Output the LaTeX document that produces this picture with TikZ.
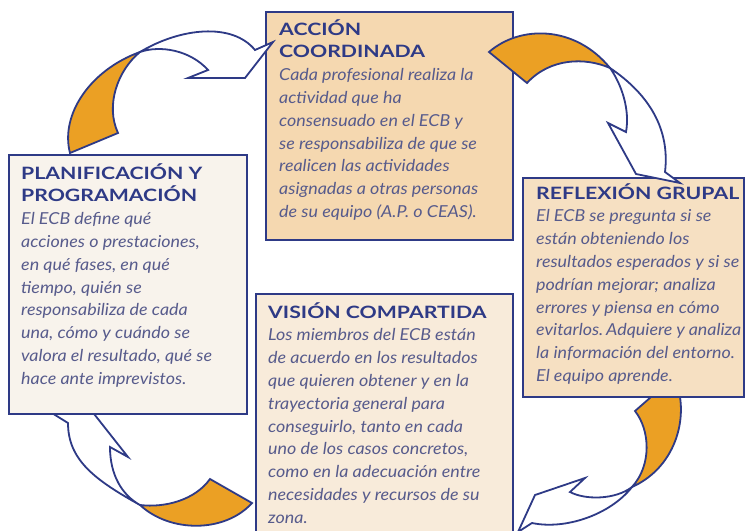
\documentclass[tikz,border=0pt]{standalone}
\usepackage{fontspec}
\setmainfont{Lato}
\newfontfamily\ttlfamily[FakeStretch=1.25]{Lato}
\newfontfamily\bdyfamily[FakeStretch=1.085]{Lato}
\definecolor{navy}{HTML}{2E3A86}
\definecolor{bodyc}{HTML}{575B8C}
\definecolor{arrorange}{HTML}{EBA024}
\definecolor{fillA}{HTML}{F5D8B0}
\definecolor{fillP}{HTML}{F8F3EC}
\definecolor{fillR}{HTML}{F6E0C2}
\definecolor{fillV}{HTML}{F8EBDA}
\newcommand\ttlf{\ttlfamily\fontsize{17}{22.8}\selectfont\bfseries\color{navy}}
\newcommand\bdyf{\bdyfamily\fontsize{16.5}{22.8}\selectfont\itshape\color{bodyc}}
\newcommand\lead{\fontsize{16}{22.8}\selectfont\frenchspacing\leavevmode}
\begin{document}
\begin{tikzpicture}[x=1pt,y=-1pt,
  box/.style={draw=navy, line width=2pt, anchor=north west, inner sep=0pt},
  txt/.style={anchor=base west, inner sep=0pt},
  orangepart/.style={draw=navy, line width=1.8pt, fill=arrorange},
  whitepart/.style={draw=navy, line width=1.8pt, fill=white}]
\clip (0,0) rectangle (746,530);
\fill[white] (0,0) rectangle (746,530);
% boxes A and V
\node[box, fill=fillA, minimum width=247pt, minimum height=228pt] (boxA) at (265,11) {};
\node[box, fill=fillV, minimum width=257pt, minimum height=260pt] (boxV) at (255,293) {};
% arrow 3 (R -> V)
\path[orangepart] (659,390) -- (635,411) .. controls (650,430) and (652,465) .. (632,487)
  .. controls (670,470) and (685,430) .. (680,397) -- (679,390) -- cycle;
\path[whitepart] (632,487) .. controls (610,515) and (565,530) .. (532,523) -- (518,532)
  -- (535,495) -- (585,478) -- (570,492) .. controls (585,500) and (615,500) .. (632,487) -- cycle;
% box R
\node[box, fill=fillR, minimum width=221pt, minimum height=219pt] (boxR) at (522,177) {};
% arrow 2 (A -> R)
\path[orangepart] (489,52) .. controls (520,25) and (575,25) .. (610,68)
  .. controls (585,57) and (550,58) .. (527,83) -- cycle;
\path[whitepart] (610,68) .. controls (650,95) and (670,130) .. (665,172) -- (680,183)
  -- (636,174) -- (608,123) -- (626,132) .. controls (630,110) and (622,85) .. (610,68) -- cycle;
% arrow 1 (P -> A)
\path[orangepart] (70,153) .. controls (60,115) and (90,70) .. (140,52)
  .. controls (118,70) and (105,105) .. (118,133) -- cycle;
\path[whitepart] (140,52) .. controls (180,28) and (232,22) .. (255,50) -- (273,42)
  -- (245,78) -- (188,78) -- (208,70) .. controls (190,50) and (160,45) .. (140,52) -- cycle;
% arrow 4 (V -> P)
\path[orangepart] (140,505) .. controls (170,533) and (225,533) .. (252,503) -- (210,479)
  .. controls (195,500) and (165,508) .. (140,505) -- cycle;
\path[whitepart] (140,505) .. controls (95,480) and (68,460) .. (68,423) -- (39,405)
  -- (87,405) -- (128,457) -- (110,447) .. controls (110,475) and (122,495) .. (140,505) -- cycle;
% box P
\node[box, fill=fillP, minimum width=238pt, minimum height=259pt] (boxP) at (8,154) {};
% texts
\node[txt] (txtA) at (279,35) {\begin{minipage}[t]{232pt}\lead
{\ttlf ACCIÓN\\COORDINADA}\\
{\bdyf Cada profesional realiza la\\
actividad que ha\\
consensuado en el ECB y\\
se responsabiliza de que se\\
realicen las actividades\\
asignadas a otras personas\\
de su equipo (A.P. o CEAS).}
\end{minipage}};
\node[txt] (txtP) at (21,179) {\begin{minipage}[t]{224pt}\lead
{\ttlf PLANIFICACIÓN Y\\PROGRAMACIÓN}\\
{\bdyf El ECB define qué\\
acciones o prestaciones,\\
en qué fases, en qué\\
tiempo, quién se\\
responsabiliza de cada\\
una, cómo y cuándo se\\
valora el resultado, qué se\\
hace ante imprevistos.}
\end{minipage}};
\node[txt] (txtR) at (536,199) {\begin{minipage}[t]{205pt}\lead
{\ttlf REFLEXIÓN GRUPAL}\\
{\bdyf El ECB se pregunta si se\\
están obteniendo los\\
resultados esperados y si se\\
podrían mejorar; analiza\\
errores y piensa en cómo\\
evitarlos.\,Adquiere y analiza\\
la información del entorno.\\
El equipo aprende.}
\end{minipage}};
\node[txt] (txtV) at (268,318) {\begin{minipage}[t]{240pt}\lead
{\ttlf VISIÓN COMPARTIDA}\\
{\bdyf Los miembros del ECB están\\
de acuerdo en los resultados\\
que quieren obtener y en la\\
trayectoria general para\\
conseguirlo, tanto en cada\\
uno de los casos concretos,\\
como en la adecuación entre\\
necesidades y recursos de su\\
zona.}
\end{minipage}};
\end{tikzpicture}
\end{document}
